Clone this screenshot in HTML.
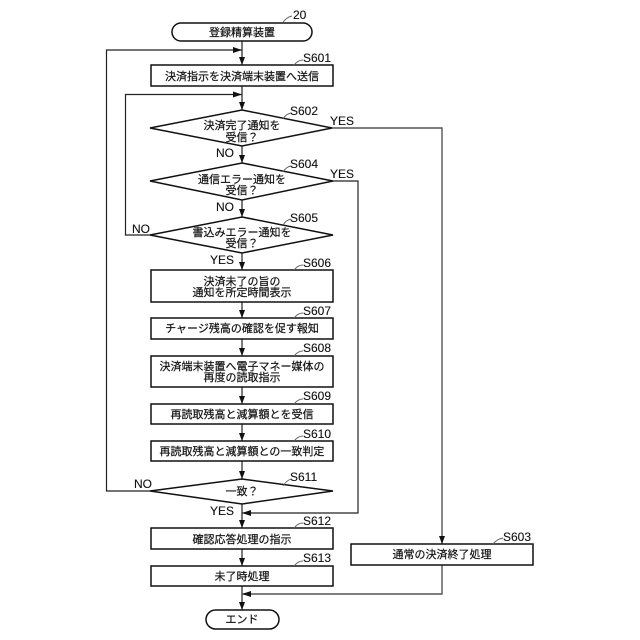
<!DOCTYPE html>
<html><head><meta charset="utf-8"><style>
html,body{margin:0;padding:0;background:#fff}
svg{display:block}
.s{fill:#fff;stroke:#111;stroke-width:1.5}
.l{fill:none;stroke:#222;stroke-width:1.2}
.y{fill:none;stroke:#555;stroke-width:1.4}
.g{fill:none;stroke:#666;stroke-width:.9}
.a{fill:#111;stroke:none}
.j{font:11px "Liberation Sans","Noto Sans CJK JP",sans-serif;fill:#111;stroke:#111;stroke-width:.2;text-anchor:middle}
.t{font:12px "Liberation Sans",sans-serif;fill:#111;stroke:#111;stroke-width:.12}
</style></head><body>
<svg width="640" height="640" viewBox="0 0 640 640" xmlns="http://www.w3.org/2000/svg">
<!-- connectors -->
<path class="l" d="M242 41V65M242 86V110M242 146V163M242 200V217M242 253V270M242 302V318M242 339V356M242 387V404M242 424V441M242 461V479M242 504V528M242 549V566M242 586V610"/>
<path class="l" d="M150 491H106.500V50H242"/>
<path class="l" d="M150 235H125.500V94.500H242"/>
<path class="y" d="M332 128H442V544"/>
<path class="l" d="M333 181H358V513H242"/>
<path class="y" d="M442 565V594H242"/>
<!-- arrowheads -->
<path class="a" d="M239 57h6l-3 8zM239 102h6l-3 8zM239 155h6l-3 8zM239 209h6l-3 8zM239 262h6l-3 8zM239 310h6l-3 8zM239 348h6l-3 8zM239 396h6l-3 8zM239 433h6l-3 8zM239 471h6l-3 8zM239 520h6l-3 8zM239 558h6l-3 8zM239 602h6l-3 8zM439 536h6l-3 8z"/>
<path class="a" d="M233 47v6l9-3zM233 91.500v6l9-3zM251 510v6l-9-3zM251 591v6l-9-3z"/>
<!-- shapes -->
<rect class="s" x="172" y="23" width="140" height="18" rx="9"/>
<rect class="s" x="151" y="65" width="182" height="21"/>
<path class="s" d="M242 110L332 128L242 146L150 128Z"/>
<path class="s" d="M242 163L333 181L242 200L150 181Z"/>
<path class="s" d="M242 217L333 235L242 253L150 235Z"/>
<rect class="s" x="151" y="270" width="182" height="32"/>
<rect class="s" x="151" y="318" width="182" height="21"/>
<rect class="s" x="151" y="356" width="182" height="31"/>
<rect class="s" x="151" y="404" width="182" height="20"/>
<rect class="s" x="151" y="441" width="182" height="20"/>
<path class="s" d="M242 479L333 491L242 504L150 491Z"/>
<rect class="s" x="151" y="528" width="182" height="21"/>
<rect class="s" x="151" y="566" width="182" height="20"/>
<rect class="s" x="206" y="610" width="73" height="19" rx="9.500"/>
<rect class="s" x="351" y="544" width="182" height="21"/>
<!-- leaders -->
<path class="g" d="M283 22Q287 17 292 16M294 65Q298 60 303 60M283 119Q286 114 291 113M283 172Q286 167 291 166M283 225Q286 220 291 219M294 270Q298 265 303 265M294 318Q298 313 303 313M294 356Q298 351 303 351M294 404Q298 399 303 399M294 441Q298 436 303 436M283 486Q286 481 291 479M294 528Q298 523 303 523M294 566Q298 561 303 561M493 544Q497 539 503 538"/>
<!-- box text -->
<text class="j" x="242" y="36">登録精算装置</text>
<text class="j" x="242" y="80">決済指示を決済端末装置へ送信</text>
<text class="j" x="242" y="129">決済完了通知を</text>
<text class="j" x="242" y="141">受信？</text>
<text class="j" x="242" y="183">通信エラー通知を</text>
<text class="j" x="242" y="194">受信？</text>
<text class="j" x="242" y="236">書込みエラー通知を</text>
<text class="j" x="242" y="247">受信？</text>
<text class="j" x="242" y="285">決済未了の旨の</text>
<text class="j" x="242" y="296">通知を所定時間表示</text>
<text class="j" x="242" y="332">チャージ残高の確認を促す報知</text>
<text class="j" x="242" y="370">決済端末装置へ電子マネー媒体の</text>
<text class="j" x="242" y="381">再度の読取指示</text>
<text class="j" x="242" y="418">再読取残高と減算額とを受信</text>
<text class="j" x="242" y="455">再読取残高と減算額との一致判定</text>
<text class="j" x="242" y="495">一致？</text>
<text class="j" x="242" y="543">確認応答処理の指示</text>
<text class="j" x="242" y="580">未了時処理</text>
<text class="j" x="242" y="623">エンド</text>
<text class="j" x="442" y="558">通常の決済終了処理</text>
<!-- labels -->
<text class="t" x="293" y="19">20</text>
<text class="t" x="303" y="62">S601</text>
<text class="t" x="290" y="115">S602</text>
<text class="t" x="290" y="168">S604</text>
<text class="t" x="290" y="222">S605</text>
<text class="t" x="303" y="267">S606</text>
<text class="t" x="303" y="315">S607</text>
<text class="t" x="303" y="352">S608</text>
<text class="t" x="303" y="400">S609</text>
<text class="t" x="303" y="438">S610</text>
<text class="t" x="290" y="481">S611</text>
<text class="t" x="303" y="525">S612</text>
<text class="t" x="303" y="562">S613</text>
<text class="t" x="503" y="541">S603</text>
<text class="t" x="330" y="125">YES</text>
<text class="t" x="330" y="178">YES</text>
<text class="t" x="216" y="157">NO</text>
<text class="t" x="216" y="211">NO</text>
<text class="t" x="132" y="233">NO</text>
<text class="t" x="210" y="264">YES</text>
<text class="t" x="134" y="488">NO</text>
<text class="t" x="210" y="515">YES</text>
</svg>
</body></html>
